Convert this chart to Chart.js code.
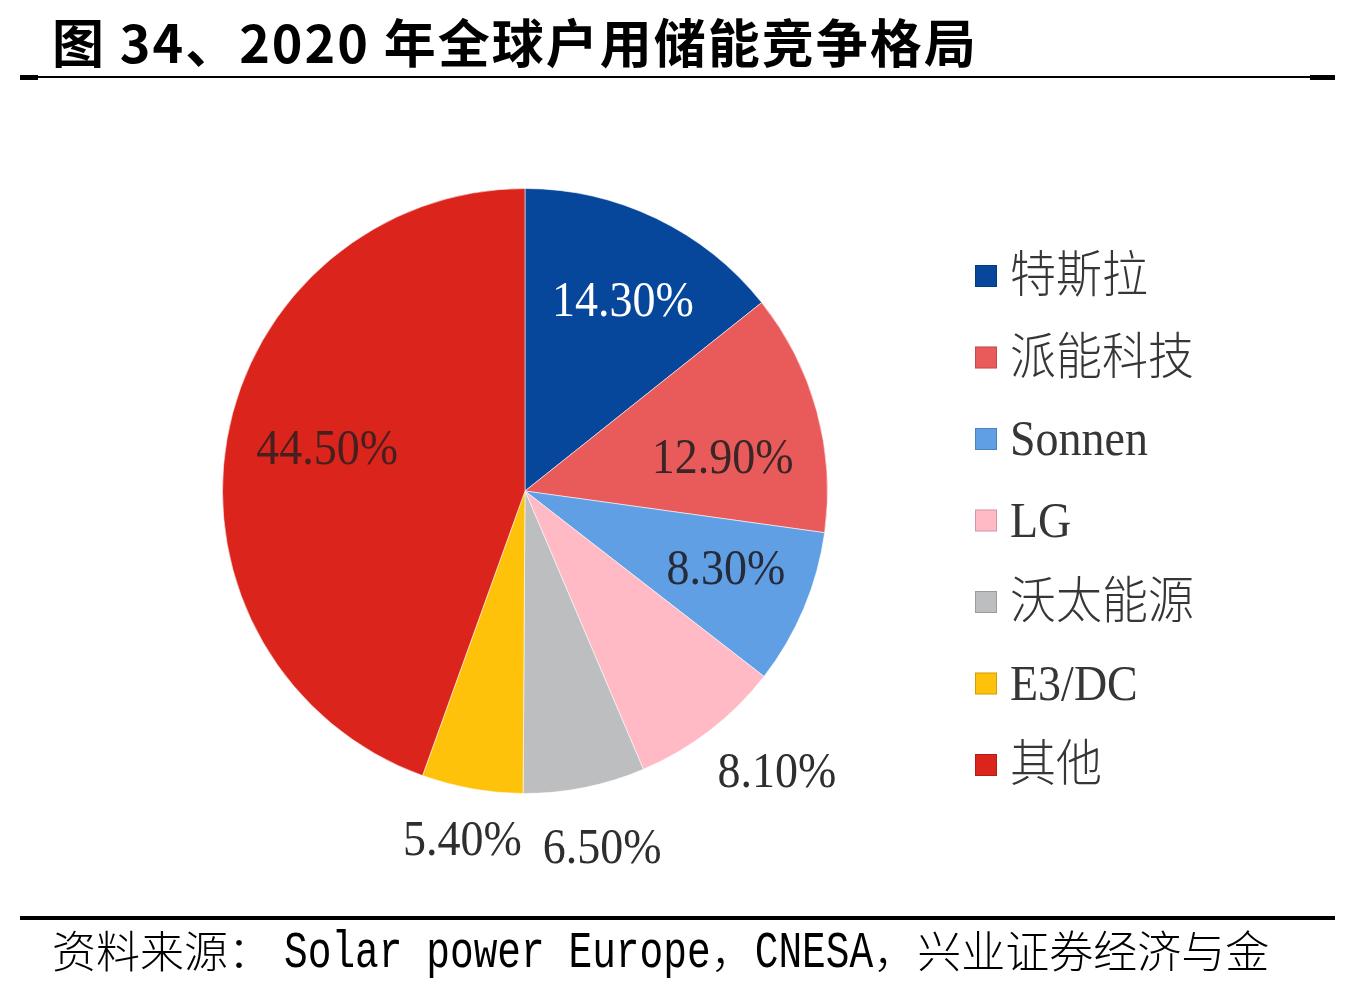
<!DOCTYPE html>
<html>
<head>
<meta charset="utf-8">
<script src="https://cdn.jsdelivr.net/npm/chart.js@4/dist/chart.umd.min.js"></script>
<style>
  html, body { margin: 0; padding: 0; background: #ffffff; }
  #page { position: relative; width: 1368px; height: 990px; background: #ffffff; overflow: hidden; }
  #chartWrap { position: absolute; left: 0; top: 0; width: 1368px; height: 990px; }
  #title { position: absolute; left: 52px; top: 15px; font-family: "Noto Sans CJK SC", sans-serif; font-weight: 700;
           font-size: 52px; line-height: 52px; letter-spacing: 2px; color: #000; white-space: nowrap; }
  .rule { position: absolute; background: #000; }
  #footer { position: absolute; left: 52px; top: 927px; font-family: "Noto Sans CJK SC", sans-serif; font-size: 44px;
            line-height: 44px; color: #000; white-space: nowrap; font-weight: 300; }
  #footer .lat { display: inline-block; font-family: "Liberation Mono", monospace; font-size: 39.5px; font-weight: 400;
                 transform: scaleY(1.3); transform-origin: 50% 78%; }
</style>
</head>
<body>
<div id="page">
  <div id="chartWrap"><canvas id="c"></canvas></div>
  <div id="title">图 34、2020 年全球户用储能竞争格局</div>
  <div class="rule" style="left:20px; top:76px; width:1315px; height:2px;"></div>
  <div class="rule" style="left:20px; top:75px; width:18px; height:5px;"></div>
  <div class="rule" style="left:1310px; top:75px; width:25px; height:5px;"></div>
  <div class="rule" style="left:20px; top:916px; width:1315px; height:4px;"></div>
  <div id="footer">资料来源：<span class="lat" style="margin-left:12px">Solar power Europe</span>，<span class="lat">CNESA</span>，兴业证券经济与金</div>
</div>
<script>
// ---- data ----
const categories = ['特斯拉', '派能科技', 'Sonnen', 'LG', '沃太能源', 'E3/DC', '其他'];
const shares = [14.3, 12.9, 8.3, 8.1, 6.5, 5.4, 44.5];

// ---- style ----
const sliceColors = ['#06479B', '#E95B5A', '#609FE3', '#FFBAC6', '#BDBEC0', '#FFC20A', '#DA241C'];
const labelColors = ['#FFFFFF', '#3A2626', '#252B3A', '#2E2E2E', '#2E2E2E', '#2E2E2E', '#45201E'];
const labelRadiusRatio = [0.709, 0.663, 0.712, 1.246, 1.205, 1.17, 0.669];
const labelAngleShiftDeg = [1.4, 5.6, -1.7, -4.3, -0.9, 0.1, 2.35];

const labelPlugin = {
  id: 'sliceLabels',
  afterDatasetsDraw(chart) {
    const ctx = chart.ctx;
    const meta = chart.getDatasetMeta(0);
    const data = chart.data.datasets[0].data;
    ctx.save();
    ctx.font = '46px "Liberation Serif", "Times New Roman", serif';
    ctx.textAlign = 'center';
    ctx.textBaseline = 'middle';
    meta.data.forEach((arc, i) => {
      const p = arc.getProps(['x', 'y', 'startAngle', 'endAngle', 'outerRadius'], true);
      const mid = (p.startAngle + p.endAngle) / 2 + labelAngleShiftDeg[i] * Math.PI / 180;
      const r = p.outerRadius * labelRadiusRatio[i];
      const x = p.x + Math.cos(mid) * r;
      const y = p.y + Math.sin(mid) * r;
      ctx.save();
      ctx.translate(x, y);
      ctx.scale(1, 1.1);
      ctx.fillStyle = labelColors[i];
      ctx.fillText(data[i].toFixed(2) + '%', 0, 2);
      ctx.restore();
    });
    ctx.restore();
  }
};

const legendPlugin = {
  id: 'sideLegend',
  afterDraw(chart, args, opts) {
    const ctx = chart.ctx;
    const ds = chart.data.datasets[0];
    ctx.save();
    ctx.font = '300 46px "Liberation Serif", "Noto Sans CJK SC", serif';
    ctx.textAlign = 'left';
    ctx.textBaseline = 'middle';
    chart.data.labels.forEach((lab, i) => {
      const cy = opts.top + i * opts.step;
      ctx.fillStyle = ds.backgroundColor[i];
      ctx.fillRect(opts.left, cy - opts.box / 2, opts.box, opts.box);
      ctx.strokeStyle = 'rgba(0,0,0,0.18)';
      ctx.lineWidth = 1;
      ctx.strokeRect(opts.left + 0.5, cy - opts.box / 2 + 0.5, opts.box - 1, opts.box - 1);
      ctx.save();
      ctx.translate(opts.left + opts.box + 13, cy);
      ctx.scale(1, 1.08);
      ctx.fillStyle = '#363636';
      ctx.fillText(lab, 0, 3);
      ctx.restore();
    });
    ctx.restore();
  }
};

new Chart(document.getElementById('c'), {
  type: 'pie',
  data: {
    labels: categories,
    datasets: [{
      data: shares,
      backgroundColor: sliceColors,
      borderColor: 'rgba(255,255,255,0.55)',
      borderWidth: 1
    }]
  },
  options: {
    responsive: true,
    maintainAspectRatio: false,
    animation: false,
    layout: { padding: { left: 222, right: 540, top: 188, bottom: 196 } },
    plugins: {
      legend: { display: false },
      tooltip: { enabled: false },
      sideLegend: { left: 975, top: 276, step: 81.5, box: 22 }
    }
  },
  plugins: [labelPlugin, legendPlugin]
});
</script>
</body>
</html>
